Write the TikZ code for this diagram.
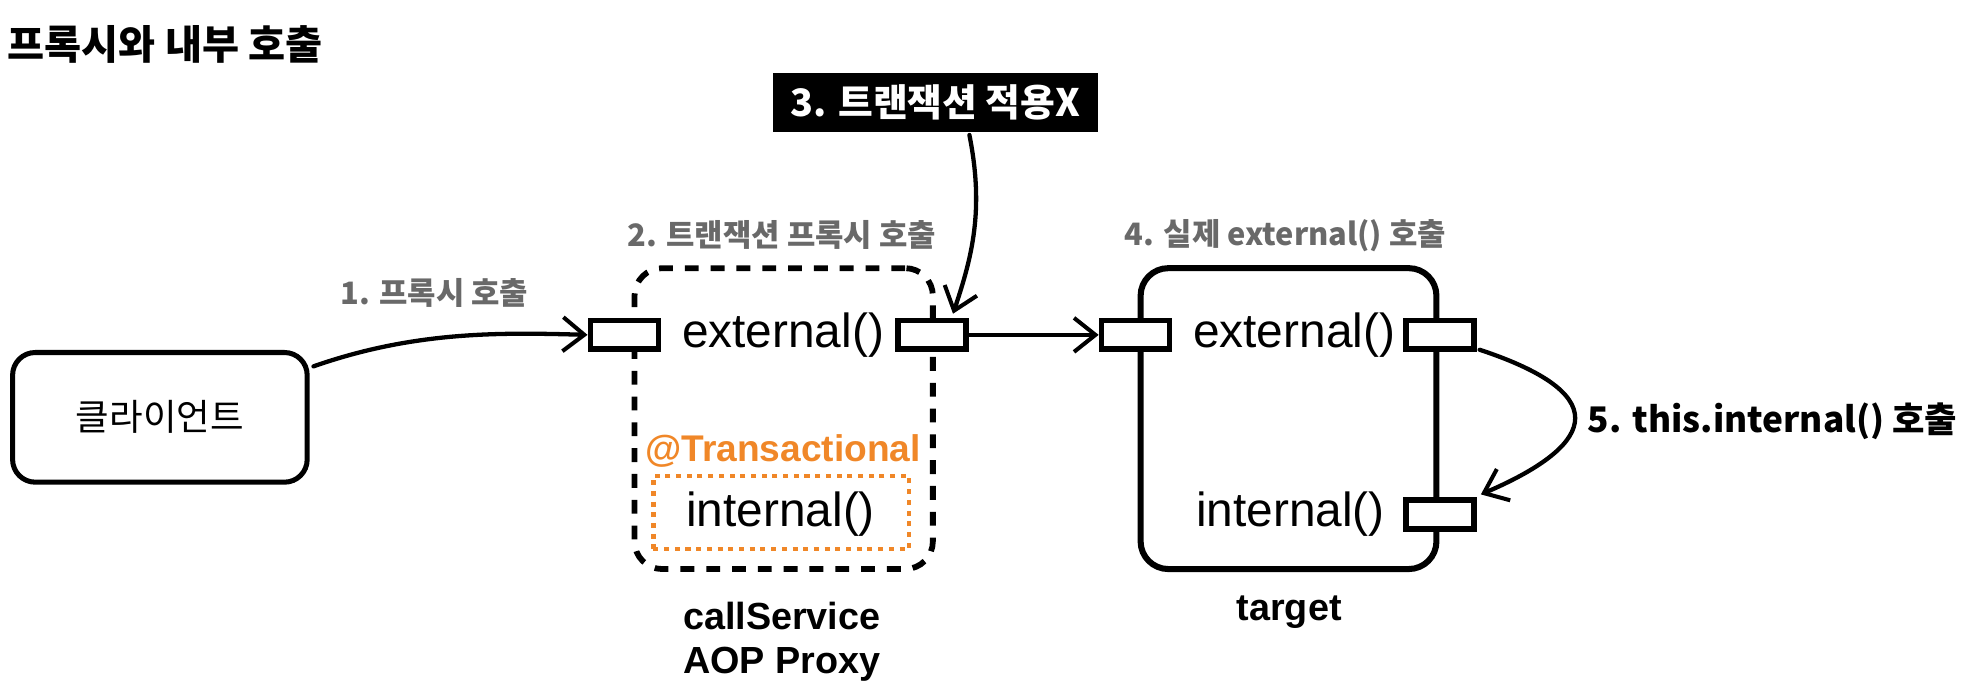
\documentclass[tikz,border=0pt]{standalone}
\usepackage{fontspec}
\setmainfont{Liberation Sans}
\newfontfamily\kr{Noto Sans CJK KR}
\usetikzlibrary{arrows.meta,calc}
\definecolor{lblgray}{RGB}{105,105,105}
\definecolor{txorange}{RGB}{240,135,40}
\tikzset{
  portbox/.style={draw, line width=4.6pt, fill=white, minimum width=54pt, minimum height=23pt, inner sep=0pt},
  conn/.style={line width=3.4pt, line cap=round, -{Straight Barb[length=17pt,width=27pt,line width=3.2pt]}},
  graylbl/.style={text=lblgray, inner sep=0pt, font=\kr\bfseries\fontsize{24.5}{26}\selectfont},
  method/.style={inner sep=0pt, font=\fontsize{38}{40}\selectfont},
  boldlbl/.style={inner sep=0pt, font=\bfseries\fontsize{30}{35}\selectfont}
}
\begin{document}
\begin{tikzpicture}[x=1pt,y=-1pt]
\useasboundingbox (0,0) rectangle (1568,549.7);

% title
\node[anchor=west, inner sep=0pt, font=\kr\bfseries\fontsize{32}{34}\selectfont] (title) at (6,35) {프록시와 내부 호출};

% client
\node[draw, line width=4pt, rounded corners=18pt, minimum width=234pt, minimum height=103pt, inner sep=0pt,
      font=\kr\fontsize{29}{31}\selectfont] (client) at (127,331.5) {클라이언트};

% proxy
\node[draw, line width=4.6pt, dash pattern=on 11pt off 9.5pt, rounded corners=22pt, minimum width=237pt, minimum height=239pt, inner sep=0pt] (proxy) at (622.5,332.5) {};
\node[portbox] (pin) at (496,266) {};
\node[portbox] (pout) at (740,266) {};
\node[method] (pext) at (622,266) {external()};
\node[inner sep=0pt, text=txorange, font=\bfseries\fontsize{29.5}{32}\selectfont] (trans) at (622,358) {@Transactional};
\node[draw=txorange, line width=3.4pt, dash pattern=on 4pt off 4.5pt, minimum width=203pt, minimum height=58pt, inner sep=0pt] (intbox) at (620.5,407) {};
\node[method] (pint) at (620,408) {internal()};
\node[boldlbl, align=center] (proxyname) at (621,510) {callService\\AOP Proxy};

% target
\node[draw, line width=4.8pt, rounded corners=22pt, minimum width=235pt, minimum height=239pt, inner sep=0pt] (target) at (1023.5,332.5) {};
\node[portbox] (tin) at (902,266) {};
\node[portbox] (tout) at (1144,266) {};
\node[portbox] (tint) at (1144,408.5) {};
\node[method] (text2) at (1028,266) {external()};
\node[method] (tint2) at (1025,408) {internal()};
\node[boldlbl, font=\bfseries\fontsize{30}{34}\selectfont] (tname) at (1024,486) {target};

% labels
\node[graylbl] (l1) at (345,233) {1. 프록시 호출};
\node[graylbl] (l2) at (621,187) {2. 트랜잭션 프록시 호출};
\node[graylbl] (l4) at (1021,187) {4. 실제 external() 호출};
\node[fill=black, text=white, minimum width=258pt, minimum height=47pt, inner sep=0pt,
      font=\kr\bfseries\fontsize{30}{32}\selectfont] (l3) at (743,81.5) {3. 트랜잭션 적용X};
\node[inner sep=0pt, font=\kr\bfseries\fontsize{28}{30}\selectfont] (l5) at (1408,335) {5. this.internal() 호출};

% connectors
\draw[conn] ($(client.north east)+(3,13)$) .. controls +(80,-28) and +(-70,-2) .. (pin.west);
\draw[conn] (pout.east) -- (tin.west);
\draw[conn] ($(l3.south)+(27,2)$) .. controls +(12,60) and +(15,-45) .. ($(pout.north)+(17,-3)$);
\draw[conn] ($(tout.south east)+(2,-2)$) .. controls +(115,38) and +(84,-36) .. ($(tint.north east)+(3,-2)$);
\end{tikzpicture}
\end{document}
